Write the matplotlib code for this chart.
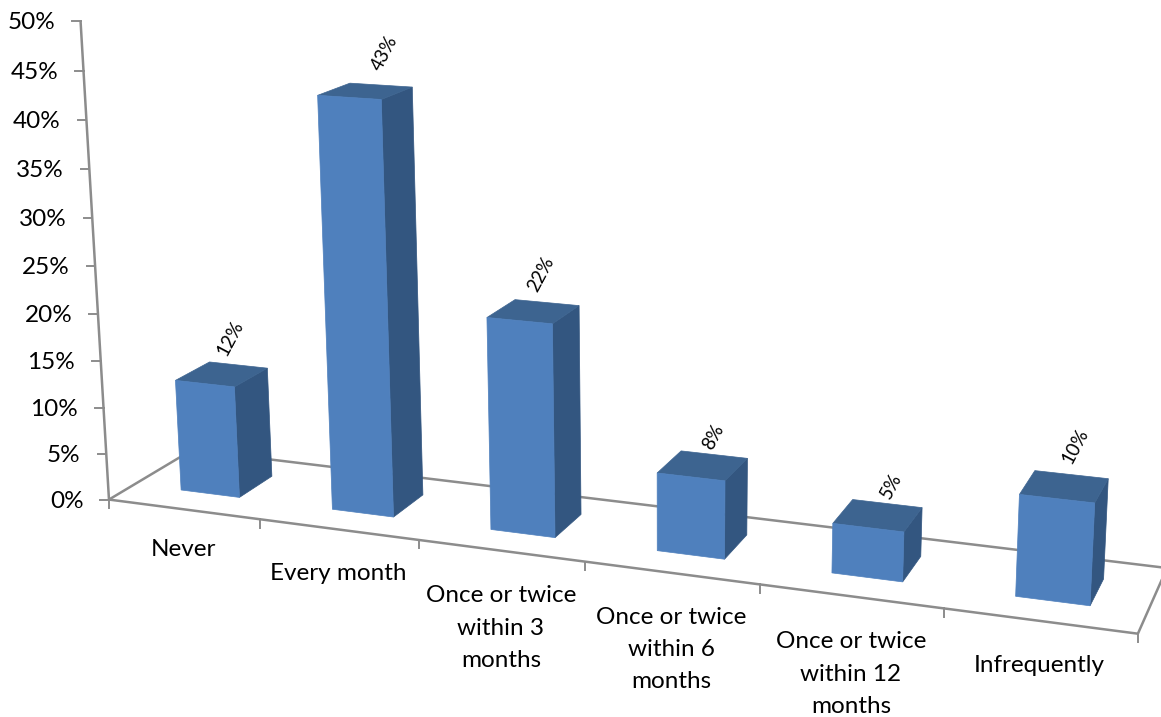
import numpy as np
import matplotlib
matplotlib.use('Agg')
import matplotlib.pyplot as plt
from matplotlib.patches import Polygon

categories = ['Never', 'Every month', 'Once or twice\nwithin 3\nmonths',
              'Once or twice\nwithin 6\nmonths', 'Once or twice\nwithin 12\nmonths',
              'Infrequently']
values = [12, 43, 22, 8, 5, 10]
value_ticks = [0, 5, 10, 15, 20, 25, 30, 35, 40, 45, 50]

# Camera anchors: (category, depth, percent) -> canvas pixel
anchor_world = [(0, 0, 0), (1, 0, 0), (2, 0, 0), (3, 0, 0), (4, 0, 0), (5, 0, 0), (6, 0, 0),
                (0, 1, 0), (6, 1, 0),
                (0, 0, 5), (0, 0, 10), (0, 0, 15), (0, 0, 45), (0, 0, 50)]
anchor_pixel = [(108.5, 498), (260, 520.5), (418.7, 540.5), (585, 562), (760, 585), (944, 608), (1138, 633),
                (192, 450), (1167, 568),
                (106.7, 454), (104, 407), (100.5, 361), (84, 71), (80, 20.5)]

FRONT = '#4f80bd'
SIDE = '#335680'
TOP = '#3d6490'
AXIS = '#8c8c8c'

BAR_LEFT = 0.315
BAR_RIGHT = 0.706
DEPTH_NEAR = 0.30
DEPTH_FAR = 0.715


def solve_camera(world, pixel):
    """Direct linear transform for a 3x4 projective camera."""
    rows = []
    for (x, y, z), (u, v) in zip(world, pixel):
        rows.append([x, y, z, 1, 0, 0, 0, 0, -u * x, -u * y, -u * z, -u])
        rows.append([0, 0, 0, 0, x, y, z, 1, -v * x, -v * y, -v * z, -v])
    _, _, vt = np.linalg.svd(np.array(rows, dtype=float))
    return vt[-1].reshape(3, 4)


cam = solve_camera(anchor_world, anchor_pixel)


def project(x, y, z):
    u, v, w = cam @ np.array([x, y, z, 1.0])
    return u / w, v / w


plt.rcParams['font.family'] = ['Lato', 'DejaVu Sans']

fig = plt.figure(figsize=(11.61, 7.17), dpi=100)
ax = fig.add_axes([0, 0, 1, 1])
ax.set_xlim(0, 1161)
ax.set_ylim(717, 0)
ax.axis('off')


def line3d(p, q):
    a, b = project(*p), project(*q)
    ax.plot([a[0], b[0]], [a[1], b[1]], color=AXIS, lw=1.8, solid_capstyle='butt', zorder=1)


# Floor outline and value axis
n = len(categories)
line3d((0, 0, 0), (n, 0, 0))
line3d((0, 0, 0), (0, 1, 0))
line3d((0, 1, 0), (n, 1, 0))
line3d((n, 0, 0), (n, 1, 0))
line3d((0, 0, 0), (0, 0, value_ticks[-1]))

for t in value_ticks:
    u, v = project(0, 0, t)
    ax.plot([u - 8.5, u], [v, v], color=AXIS, lw=1.4, zorder=1)
    ax.text(u - 25.5, v + 1.5, f'{t}%', ha='right', va='center', fontsize=17.5, color='black')

for i in range(n + 1):
    u, v = project(i, 0, 0)
    ax.plot([u, u], [v, v + 8.5], color=AXIS, lw=1.4, zorder=1)

# Bars, three visible faces each
for i, val in enumerate(values):
    x0, x1 = i + BAR_LEFT, i + BAR_RIGHT
    y0, y1 = DEPTH_NEAR, DEPTH_FAR
    front = [(x0, y0, 0), (x1, y0, 0), (x1, y0, val), (x0, y0, val)]
    side = [(x1, y0, 0), (x1, y1, 0), (x1, y1, val), (x1, y0, val)]
    top = [(x0, y0, val), (x1, y0, val), (x1, y1, val), (x0, y1, val)]
    for face, col in [(side, SIDE), (top, TOP), (front, FRONT)]:
        ax.add_patch(Polygon([project(*p) for p in face], closed=True,
                             facecolor=col, edgecolor=col, lw=0.5, zorder=3))

label_y = [547, 571, 594, 615, 640, 663]
for i, (cat, ly) in enumerate(zip(categories, label_y)):
    u, _ = project(i + 0.5, 0, 0)
    ax.text(u, ly - 8.5, cat, ha='center', va='top', fontsize=17.5, linespacing=1.65, color='black')

value_offset = [(11, -36), (21, -38), (10, -38), (13, -29), (16, -30), (13, -41)]
for i, (val, off) in enumerate(zip(values, value_offset)):
    u, v = project(i + 0.5, 0.5, val)
    ax.text(u + off[0], v + off[1], f'{val}%', rotation=62, ha='center', va='center',
            fontsize=13.5, color='black', rotation_mode='anchor')

fig.savefig('out.png', dpi=100, facecolor='white')
